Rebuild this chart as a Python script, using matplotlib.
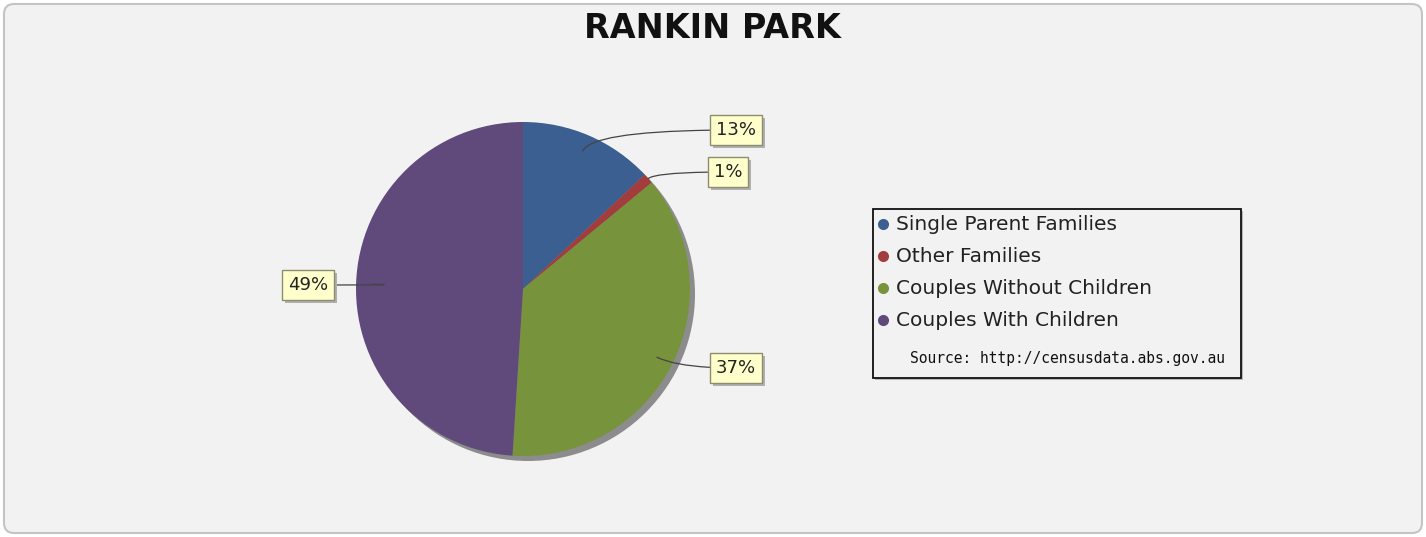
import matplotlib.pyplot as plt
import matplotlib.patheffects as pe
from matplotlib.patches import Circle, FancyBboxPatch, Rectangle
import numpy as np

title = "RANKIN PARK"
categories = ["Single Parent Families", "Other Families",
              "Couples Without Children", "Couples With Children"]
shares = [13, 1, 37, 49]
pct_labels = ["13%", "1%", "37%", "49%"]
colors = ["#3a5f90", "#a33c3c", "#77933c", "#5f4a7b"]
source = "Source: http://censusdata.abs.gov.au"

W, H = 1426, 537


def Y(y):
    # pixel row (top origin) -> axes coordinate (bottom origin)
    return H - y


fig = plt.figure(figsize=(W / 100, H / 100), dpi=100, facecolor="white")
ax = fig.add_axes([0, 0, 1, 1])
ax.set_xlim(0, W)
ax.set_ylim(0, H)
ax.axis("off")

# panel background with rounded border
ax.add_patch(FancyBboxPatch((4, 4), W - 8, H - 8,
                            boxstyle="round,pad=0,rounding_size=10",
                            facecolor="#f2f2f2", edgecolor="#c4c4c4", lw=1.5))

ax.text(W / 2 - 1, Y(28), title, ha="center", va="center",
        fontsize=24, fontweight="bold", color="#111111")

# pie
cx, cy, r = 523, Y(289), 167
ax.add_patch(Circle((cx + 5, cy - 5), r, facecolor="#8c8c8c", edgecolor="none"))
wedges, _ = ax.pie(shares, colors=colors, startangle=90, counterclock=False,
                   radius=r, center=(cx, cy), frame=True,
                   wedgeprops=dict(edgecolor="none"))
ax.set_xlim(0, W)
ax.set_ylim(0, H)
ax.set_aspect("equal")
ax.axis("off")

# labels with leader lines
label_pos = [(736, 130), (728, 172), (736, 368), (308, 285)]
rfrac = [0.9, 1.0, 0.9, 0.9]
for w, lab, (lx, ly), rf in zip(wedges, pct_labels, label_pos, rfrac):
    mid = np.deg2rad((w.theta1 + w.theta2) / 2)
    px = cx + rf * r * np.cos(mid)
    py = cy + rf * r * np.sin(mid)
    ann = ax.annotate(lab, xy=(px, py), xytext=(lx, Y(ly)),
                      ha="center", va="center", fontsize=13, color="#222222",
                      bbox=dict(boxstyle="square,pad=0.32", fc="#ffffcc",
                                ec="#8c8c70", lw=1.0),
                      arrowprops=dict(arrowstyle="-", color="#444444", lw=0.9,
                                      shrinkA=0, shrinkB=0,
                                      connectionstyle="angle3,angleA=0,angleB=%d"
                                      % int(np.rad2deg(mid))),
                      annotation_clip=False)
    ann.get_bbox_patch().set_path_effects(
        [pe.SimplePatchShadow(offset=(2, -2), shadow_rgbFace="#b0b0b0", alpha=1),
         pe.Normal()])

# legend
lx0, ly0, lx1, ly1 = 873, 209, 1241, 378
ax.add_patch(Rectangle((lx0 + 2, Y(ly1) - 2), lx1 - lx0, ly1 - ly0,
                       facecolor="#b8b8b8", edgecolor="none"))
ax.add_patch(Rectangle((lx0, Y(ly1)), lx1 - lx0, ly1 - ly0,
                       facecolor="#f2f2f2", edgecolor="#111111", lw=1.3))
for i, (cat, c) in enumerate(zip(categories, colors)):
    yy = Y(224 + 32 * i)
    ax.plot(883, yy, "o", ms=8, color=c, mec="none")
    ax.text(896, yy, cat, ha="left", va="center", fontsize=14.5, color="#222222")
ax.text(1067, Y(359), source, ha="center", va="center",
        fontsize=10.5, family="DejaVu Sans Mono", color="#111111")

fig.savefig("out.png", dpi=100, facecolor=fig.get_facecolor())
